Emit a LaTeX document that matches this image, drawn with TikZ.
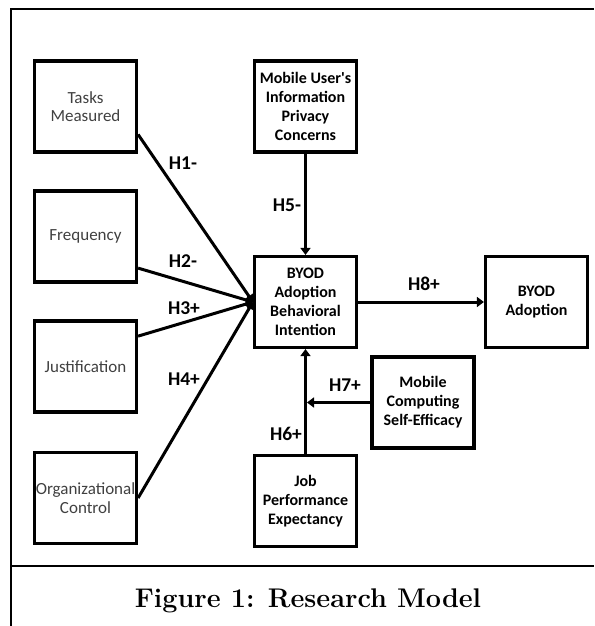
\documentclass[tikz,border=0pt]{standalone}
\usepackage{fontspec}
\usetikzlibrary{arrows.meta}
\newfontfamily\calib{Carlito}

\tikzset{
  box/.style={draw, rectangle, line width=3.2pt, minimum width=102pt, minimum height=91pt, align=center, inner sep=1pt},
  lbox/.style={box, font=\calib\fontsize{17}{18.5}\selectfont, text=black!75},
  rbox/.style={box, font=\calib\bfseries\fontsize{16}{19}\selectfont},
  hyp/.style={font=\calib\bfseries\fontsize{19.5}{21}\selectfont},
  link/.style={->, >={Triangle[length=7pt,width=10pt]}, line width=3pt},
}

\begin{document}
\begin{tikzpicture}[x=1pt,y=-1pt]
\useasboundingbox (0,0) rectangle (594,626);
% frame and caption
\draw[line width=2pt] (594,9) -- (11,9) -- (11,626);
\draw[line width=2pt] (11,566) -- (594,566);
\node[font=\bfseries\fontsize{27}{29}\selectfont] (caption) at (308,601) {Figure 1: Research Model};

% left column
\node[lbox] (tasks) at (85.5,106.5) {Tasks\\Measured};
\node[lbox] (freq) at (85.5,236.5) {Frequency};
\node[lbox] (just) at (85.5,366.5) {Justification};
\node[lbox] (org) at (85.5,498) {Organizational\\Control};

% middle and right
\node[rbox] (priv) at (305.5,106.5) {Mobile User's\\Information\\Privacy\\Concerns};
\node[rbox] (bi) at (305.5,302) {BYOD\\Adoption\\Behavioral\\Intention};
\node[rbox] (adopt) at (536.5,302) {BYOD\\Adoption};
\node[rbox] (eff) at (423,402.5) {Mobile\\Computing\\Self-Efficacy};
\node[rbox] (job) at (305.5,501) {Job\\Performance\\Expectancy};
\coordinate (h7end) at (bi.south |- eff.west);

\draw[link] (tasks.-28) -- (bi.west);
\draw[link] (freq.-31) -- (bi.west);
\draw[link] (just.30) -- (bi.west);
\draw[link] (org.east) -- (bi.west);
\draw[link] (priv.south) -- (bi.north);
\draw[link] (bi.east) -- (adopt.west);
\draw[link] (job.north) -- (bi.south);
\draw[link] (eff.west) -- ([xshift=1.5pt]h7end);

% hypothesis labels
\node[hyp] (h1) at (183,163) {H1-};
\node[hyp] (h2) at (183,261) {H2-};
\node[hyp] (h3) at (184,308) {H3+};
\node[hyp] (h4) at (184,379) {H4+};
\node[hyp] (h5) at (287,205) {H5-};
\node[hyp] (h6) at (286,434) {H6+};
\node[hyp] (h7) at (345,385) {H7+};
\node[hyp] (h8) at (424,284) {H8+};
\end{tikzpicture}
\end{document}
